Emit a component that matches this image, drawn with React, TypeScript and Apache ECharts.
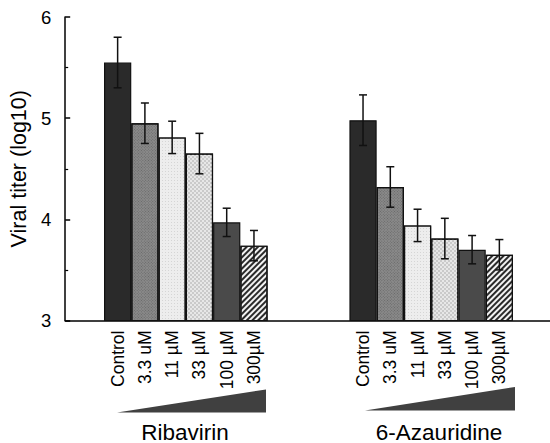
import React, { useEffect, useRef } from "react";
import * as echarts from "echarts";

const concentrations = ["Control", "3.3 uM", "11 µM", "33 µM", "100 µM", "300µM"];
const groupNames = ["Ribavirin", "6-Azauridine"];
const ribavirin = [5.55, 4.95, 4.81, 4.65, 3.97, 3.74];
const ribavirinErr = [0.25, 0.2, 0.16, 0.2, 0.14, 0.15];
const azauridine = [4.98, 4.32, 3.94, 3.81, 3.7, 3.65];
const azauridineErr = [0.25, 0.2, 0.16, 0.2, 0.14, 0.15];
const yTicks = [3, 4, 5, 6];
const gapSlots = 3;

const barStyles: any[] = [
  { color: "#2a2a2a" },
  {
    color: "#8a8a8a",
    decal: { symbol: "rect", color: "rgba(40,40,40,0.35)", dashArrayX: [1, 1], dashArrayY: [1, 1], rotation: Math.PI / 4, symbolSize: 1 },
  },
  {
    color: "#ededed",
    decal: { symbol: "rect", color: "rgba(0,0,0,0.10)", dashArrayX: [1, 2], dashArrayY: [1, 2], symbolSize: 1 },
  },
  {
    color: "#cacaca",
    decal: { symbol: "rect", color: "rgba(255,255,255,0.55)", dashArrayX: [[2, 2], [0, 2, 2, 0]], dashArrayY: [2, 0], symbolSize: 1 },
  },
  { color: "#4a4a4a" },
  {
    color: "#f2f2f2",
    decal: { symbol: "rect", color: "#2a2a2a", dashArrayX: [1, 0], dashArrayY: [2, 2], rotation: -Math.PI / 4, symbolSize: 1 },
  },
];

export default function App() {
  const ref = useRef<HTMLDivElement>(null);
  useEffect(() => {
    if (!ref.current) return;
    const chart = echarts.init(ref.current, null, { renderer: "svg" });

    const cats: string[] = [...concentrations];
    for (let i = 0; i < gapSlots; i++) cats.push("");
    cats.push(...concentrations);

    const errData: any[] = [];
    const groups = [
      { v: ribavirin, e: ribavirinErr, offset: 0 },
      { v: azauridine, e: azauridineErr, offset: concentrations.length + gapSlots },
    ];
    const barData: any[] = new Array(cats.length).fill("-");
    groups.forEach((g) => {
      g.v.forEach((val, i) => {
        const idx = g.offset + i;
        barData[idx] = {
          value: val,
          itemStyle: { ...barStyles[i], borderColor: "#111", borderWidth: 1.2 },
        };
        errData.push([idx, val - g.e[i], val + g.e[i]]);
      });
    });

    const font = "Liberation Sans, Arial, sans-serif";

    chart.setOption({
      animation: false,
      textStyle: { fontFamily: font },
      grid: [
        { left: 63, right: 0, top: 17, bottom: 122.5 },
        { left: 104, right: 37, top: 17, bottom: 122.5 },
      ],
      xAxis: [
        {
          type: "value",
          gridIndex: 0,
          min: 0,
          max: 1,
          axisLine: { show: true, lineStyle: { color: "#000", width: 1.5 } },
          axisTick: { show: false },
          axisLabel: { show: false },
          splitLine: { show: false },
        },
        {
          type: "category",
          gridIndex: 1,
          data: cats,
          axisLine: { show: false },
          axisTick: { show: false },
          axisLabel: {
            interval: 0,
            rotate: 90,
            fontSize: 17.5,
            color: "#000",
            margin: 10,
            fontFamily: font,
          },
        },
      ],
      yAxis: [
        {
          type: "value",
          gridIndex: 0,
          min: yTicks[0],
          max: yTicks[yTicks.length - 1],
          interval: 1,
          name: "Viral titer (log10)",
          nameLocation: "middle",
          nameRotate: 90,
          nameGap: 22,
          nameTextStyle: { fontSize: 21.5, color: "#000", fontFamily: font },
          axisLine: { show: true, lineStyle: { color: "#000", width: 1.5 } },
          axisTick: { show: true, inside: true, length: 5, lineStyle: { color: "#000", width: 1.5 } },
          minorTick: { show: true, splitNumber: 2, length: 3, lineStyle: { color: "#000", width: 1.2 } },
          axisLabel: { fontSize: 18.5, color: "#000", margin: 14, fontFamily: font },
          splitLine: { show: false },
        },
        {
          type: "value",
          gridIndex: 1,
          min: yTicks[0],
          max: yTicks[yTicks.length - 1],
          show: false,
        },
      ],
      series: [
        {
          type: "bar",
          xAxisIndex: 1,
          yAxisIndex: 1,
          barCategoryGap: "0%",
          data: barData,
          z: 2,
        },
        {
          type: "custom",
          xAxisIndex: 1,
          yAxisIndex: 1,
          z: 5,
          data: errData,
          encode: { x: 0, y: [1, 2] },
          renderItem: (params: any, api: any) => {
            const x = api.value(0);
            const pLo = api.coord([x, api.value(1)]);
            const pHi = api.coord([x, api.value(2)]);
            const hw = 4;
            const st = { stroke: "#111", lineWidth: 1.5 };
            return {
              type: "group",
              children: [
                { type: "line", shape: { x1: pLo[0], y1: pLo[1], x2: pHi[0], y2: pHi[1] }, style: st },
                { type: "line", shape: { x1: pHi[0] - hw, y1: pHi[1], x2: pHi[0] + hw, y2: pHi[1] }, style: st },
                { type: "line", shape: { x1: pLo[0] - hw, y1: pLo[1], x2: pLo[0] + hw, y2: pLo[1] }, style: st },
              ],
            };
          },
        },
      ],
      graphic: [
        {
          type: "polygon",
          shape: { points: [[117, 412.5], [266, 412.5], [266, 389.5]] },
          style: { fill: "#404040" },
        },
        {
          type: "polygon",
          shape: { points: [[365, 410.5], [515, 410.5], [515, 387]] },
          style: { fill: "#404040" },
        },
        {
          type: "text",
          x: 185,
          y: 432,
          style: { text: groupNames[0], fontSize: 22.5, fill: "#000", align: "center", verticalAlign: "middle", fontFamily: font },
        },
        {
          type: "text",
          x: 439,
          y: 432,
          style: { text: groupNames[1], fontSize: 22.5, fill: "#000", align: "center", verticalAlign: "middle", fontFamily: font },
        },
      ],
    });
    return () => chart.dispose();
  }, []);
  return (
    <div
      ref={ref}
      style={{ position: "fixed", left: 0, top: 0, width: 550, height: 443, background: "#fff" }}
    />
  );
}
